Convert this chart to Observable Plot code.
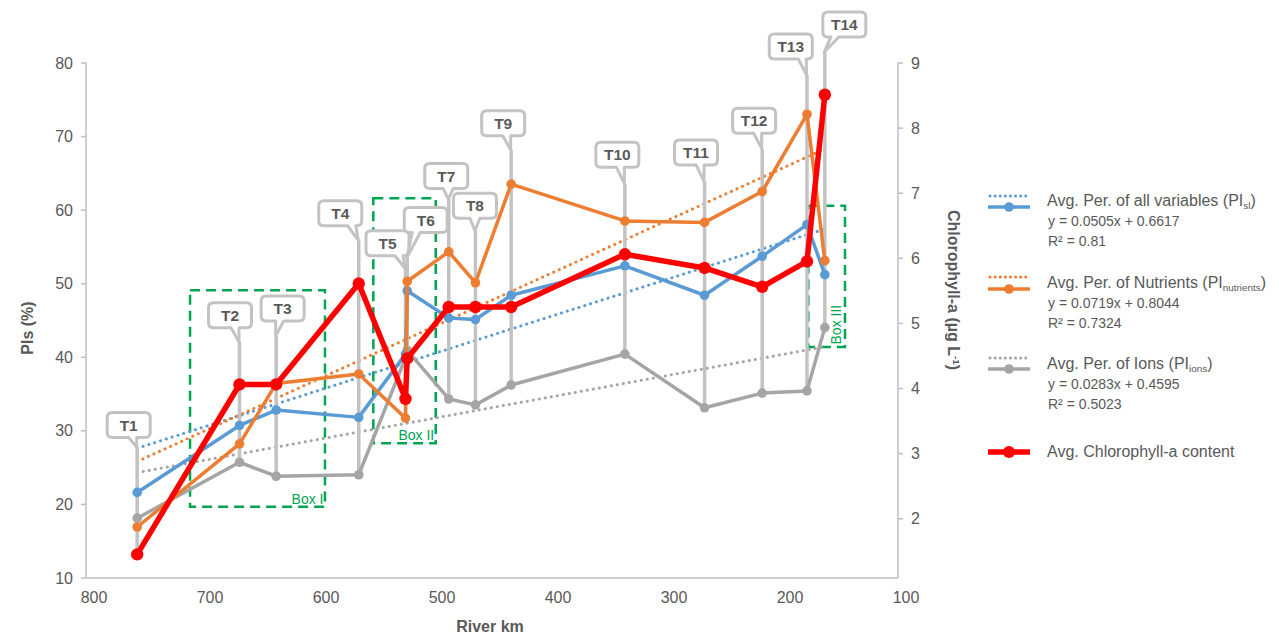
<!DOCTYPE html>
<html>
<head>
<meta charset="utf-8">
<script src="https://cdn.jsdelivr.net/npm/d3@7"></script>
<script src="https://cdn.jsdelivr.net/npm/@observablehq/plot@0.6"></script>
<style>
html,body{margin:0;padding:0;background:#fff;}
#wrap{position:relative;width:1279px;height:639px;font-family:"Liberation Sans",Arial,sans-serif;color:#595959;overflow:hidden;}
#chart svg{display:block;}
.t{position:absolute;white-space:nowrap;line-height:1;}
.ttl{font-weight:bold;font-size:16px;color:#595959;}
.lg{font-size:16px;transform:translateY(-50%);}
.eq{font-size:14px;transform:translateY(-50%);}
.sub{font-size:0.62em;position:relative;top:0.3em;}
.sup{font-size:0.62em;position:relative;top:-0.5em;}
</style>
</head>
<body>
<div id="wrap"><div id="chart"></div></div>
<script>
// ---------- data ----------
const stations = ["T1","T2","T3","T4","T5","T6","T7","T8","T9","T10","T11","T12","T13","T14"];
const riverKm = [756.3, 668.1, 636.5, 565.3, 525.0, 523.5, 487.7, 464.7, 433.9, 335.9, 267.2, 217.5, 178.9, 163.5];
const piAll = [21.7, 30.8, 32.9, 31.9, 40.5, 49.1, 45.4, 45.2, 48.5, 52.5, 48.5, 53.8, 58.1, 51.3];
const piNutrients = [17.0, 28.3, 36.5, 37.8, 31.8, 50.4, 54.4, 50.2, 63.6, 58.6, 58.4, 62.6, 73.1, 53.2];
const piIons = [18.2, 25.8, 23.9, 24.1, 40.0, 41.0, 34.4, 33.6, 36.3, 40.5, 33.2, 35.2, 35.5, 44.1];
const chlorophyll = [1.46, 4.07, 4.07, 5.62, 3.85, 4.47, 5.26, 5.26, 5.26, 6.07, 5.86, 5.57, 5.96, 8.52];

// trend line end values (at T1 and T14)
const trendAll = [27.7, 57.5];
const trendNutrients = [25.9, 68.4];
const trendIons = [24.4, 41.5];

// callout tip heights (left-axis units)
const calloutTip = [27.8, 42.1, 42.9, 55.9, 52.1, 53.5, 61.5, 57.2, 68.2, 63.6, 63.9, 68.4, 78.4, 81.5];

// green boxes
const boxNames = ["Box I", "Box II", "Box III"];
const boxKmStart = [710.3, 552.3, 177.3];
const boxKmEnd = [594.0, 498.5, 145.7];
const boxLow = [19.7, 28.3, 41.4];
const boxHigh = [49.1, 61.6, 60.6];

// axes
const xTicks = [800, 700, 600, 500, 400, 300, 200, 100];
const yTicks = [10, 20, 30, 40, 50, 60, 70, 80];
const chlTicks = [2, 3, 4, 5, 6, 7, 8, 9];
const chlDomain = [1.09, 9];

// ---------- layout / style (not data) ----------
const calloutDx = [-8, -9, 7, -18, -17.5, 19, -2, 0, -7.5, -7, -8, -7.6, -15.7, 20];
const calloutDy = [-22, -26.5, -27.5, -27, -25, -38, -23, -25, -26.5, -29, -29, -27.5, -28.3, -27.5];

const C = {blue:"#5b9bd5", orange:"#ed7d31", gray:"#a5a5a5", red:"#ff0000", green:"#00a550", axis:"#bfbfbf", text:"#595959"};

const y2 = d3.scaleLinear(chlDomain, [10, 80]);

const rows = stations.map((s, i) => ({
  s, km: riverKm[i], all: piAll[i], nut: piNutrients[i], ions: piIons[i], chl: chlorophyll[i],
  tip: calloutTip[i], dx: calloutDx[i], dy: calloutDy[i],
  low: Math.min(piAll[i], piNutrients[i], piIons[i], y2(chlorophyll[i]))
}));
const last = rows.length - 1;
const trends = [
  {key:"all", vals: trendAll, color: C.blue},
  {key:"nut", vals: trendNutrients, color: C.orange},
  {key:"ions", vals: trendIons, color: C.gray}
].flatMap(t => [
  {k: t.key, km: riverKm[0], v: t.vals[0], color: t.color},
  {k: t.key, km: riverKm[last], v: t.vals[1], color: t.color}
]);
const boxes = boxNames.map((n, i) => ({n, x1: boxKmStart[i], x2: boxKmEnd[i], y1: boxLow[i], y2: boxHigh[i]}));

// axes drawn through Plot's scales
function axesMark(index, scales) {
  const g = d3.create("svg:g").attr("font-size", 16).attr("fill", C.text);
  const x = scales.x, y = scales.y;
  const xl = x(800), xr = x(100), yb = y(10), yt = y(80);
  g.append("line").attr("x1", xl).attr("x2", xl).attr("y1", yt).attr("y2", yb).attr("stroke", C.axis).attr("stroke-width", 1.5);
  g.append("line").attr("x1", xr).attr("x2", xr).attr("y1", yt).attr("y2", yb).attr("stroke", C.axis).attr("stroke-width", 1.5);
  g.append("line").attr("x1", xl).attr("x2", xr).attr("y1", yb).attr("y2", yb).attr("stroke", C.axis).attr("stroke-width", 1.5);
  for (const t of yTicks) {
    const py = y(t);
    g.append("line").attr("x1", xl - 5).attr("x2", xl).attr("y1", py).attr("y2", py).attr("stroke", C.axis).attr("stroke-width", 1.5);
    g.append("text").attr("x", xl - 13).attr("y", py).attr("dy", "0.35em").attr("text-anchor", "end").text(t);
  }
  for (const t of chlTicks) {
    const py = y(y2(t));
    g.append("line").attr("x1", xr).attr("x2", xr + 5).attr("y1", py).attr("y2", py).attr("stroke", C.axis).attr("stroke-width", 1.5);
    g.append("text").attr("x", xr + 13).attr("y", py).attr("dy", "0.35em").attr("text-anchor", "start").text(t);
  }
  for (const t of xTicks) {
    g.append("text").attr("x", x(t) + 8).attr("y", yb + 19).attr("dy", "0.35em").attr("text-anchor", "middle").text(t);
  }
  return g.node();
}

function calloutMark(index, scales) {
  const g = d3.create("svg:g");
  const w = 43, h = 25, r = 5;
  for (const c of rows) {
    const tx = scales.x(c.km), ty = scales.y(c.tip);
    const cx = tx + c.dx, cy = ty + c.dy;
    const x0 = cx - w / 2, x1 = cx + w / 2, yA = cy - h / 2, yB = cy + h / 2;
    let b0, b1;
    if (c.dx < -3) { const e = Math.min(tx, x1 - r - 1); b0 = e - 8; b1 = e; }
    else if (c.dx > 3) { const e = Math.max(tx, x0 + r + 3); b0 = e; b1 = e + 8; }
    else { b0 = tx - 5; b1 = tx + 5; }
    const d = `M${x0 + r},${yA} H${x1 - r} Q${x1},${yA} ${x1},${yA + r} V${yB - r} Q${x1},${yB} ${x1 - r},${yB} H${b1} L${tx},${ty} L${b0},${yB} H${x0 + r} Q${x0},${yB} ${x0},${yB - r} V${yA + r} Q${x0},${yA} ${x0 + r},${yA} Z`;
    g.append("path").attr("d", d).attr("fill", "#fff").attr("stroke", "#c3c3c3").attr("stroke-width", 3).attr("stroke-linejoin", "round");
    g.append("text").attr("x", cx).attr("y", cy).attr("text-anchor", "middle").attr("dy", "0.36em")
      .attr("font-size", 15.5).attr("font-weight", "bold").attr("fill", C.text).text(c.s);
  }
  return g.node();
}

const plot = Plot.plot({
  width: 1279,
  height: 639,
  marginLeft: 86,
  marginRight: 381,
  marginTop: 63,
  marginBottom: 61,
  style: {fontFamily: "'Liberation Sans', Arial, sans-serif", background: "#fff", overflow: "visible"},
  x: {domain: [800, 100], axis: null},
  y: {domain: [10, 80], axis: null},
  marks: [
    axesMark,
    // green boxes
    Plot.rect(boxes, {x1: "x1", x2: "x2", y1: "y1", y2: "y2", fill: "none", stroke: C.green, strokeWidth: 2.5, strokeDasharray: "10,6"}),
    Plot.text(boxes.slice(0, 2), {x: "x2", y: "y1", text: "n", textAnchor: "end", dx: -2, dy: -8, fill: C.green, fontSize: 14}),
    Plot.text(boxes.slice(2), {x: "x2", y: "y1", text: "n", textAnchor: "start", rotate: -90, dx: -9, dy: -3, fill: C.green, fontSize: 14}),
    // trend lines
    Plot.line(trends, {x: "km", y: "v", z: "k", stroke: "color", strokeWidth: 3, strokeDasharray: "0.1,6", strokeLinecap: "round"}),
    // callout leader lines
    Plot.ruleX(rows, {x: "km", y1: "low", y2: "tip", stroke: "#c3c3c3", strokeWidth: 3.5}),
    // series
    Plot.line(rows, {x: "km", y: "ions", stroke: C.gray, strokeWidth: 3.5}),
    Plot.dot(rows, {x: "km", y: "ions", r: 4.8, fill: C.gray}),
    Plot.line(rows, {x: "km", y: "all", stroke: C.blue, strokeWidth: 3.5}),
    Plot.dot(rows, {x: "km", y: "all", r: 4.8, fill: C.blue}),
    Plot.line(rows, {x: "km", y: "nut", stroke: C.orange, strokeWidth: 3.5}),
    Plot.dot(rows, {x: "km", y: "nut", r: 4.8, fill: C.orange}),
    Plot.line(rows, {x: "km", y: d => y2(d.chl), stroke: C.red, strokeWidth: 5.5, strokeLinejoin: "round"}),
    Plot.dot(rows, {x: "km", y: d => y2(d.chl), r: 6.2, fill: C.red}),
    // callouts
    calloutMark
  ]
});
document.getElementById("chart").appendChild(plot);

// ---------- titles & legend ----------
const wrap = document.getElementById("wrap");
function addDiv(html, cls, style) {
  const d = document.createElement("div");
  d.className = "t " + cls;
  d.innerHTML = html;
  Object.assign(d.style, style);
  wrap.appendChild(d);
  return d;
}
addDiv("PIs (%)", "ttl", {left: "28px", top: "328px", transform: "translate(-50%,-50%) rotate(-90deg)"});
addDiv("Chlorophyll-a (µg L<span class='sup'>-1</span>)", "ttl", {left: "953px", top: "290px", transform: "translate(-50%,-50%) rotate(90deg)"});
addDiv("River km", "ttl", {left: "490px", top: "627px", transform: "translate(-50%,-50%)"});

const legendItems = [
  {name: "Avg. Per. of all variables (PI<span class='sub'>sl</span>)", eq: "y = 0.0505x + 0.6617", r2: "R² = 0.81", color: C.blue, y: 201, dot: 196, solid: 207},
  {name: "Avg. Per. of Nutrients (PI<span class='sub'>nutrients</span>)", eq: "y = 0.0719x + 0.8044", r2: "R² = 0.7324", color: C.orange, y: 283, dot: 277, solid: 289},
  {name: "Avg. Per. of Ions (PI<span class='sub'>ions</span>)", eq: "y = 0.0283x + 0.4595", r2: "R² = 0.5023", color: C.gray, y: 364, dot: 358, solid: 369},
  {name: "Avg. Chlorophyll-a content", color: C.red, y: 452, solid: 452, thick: true}
];
const svgNS = "http://www.w3.org/2000/svg";
const sw = document.createElementNS(svgNS, "svg");
sw.setAttribute("width", 1279); sw.setAttribute("height", 639);
sw.style.position = "absolute"; sw.style.left = "0"; sw.style.top = "0"; sw.style.pointerEvents = "none";
wrap.appendChild(sw);
function ln(x1, y1, x2, y2, attrs) {
  const l = document.createElementNS(svgNS, "line");
  l.setAttribute("x1", x1); l.setAttribute("y1", y1); l.setAttribute("x2", x2); l.setAttribute("y2", y2);
  for (const k in attrs) l.setAttribute(k, attrs[k]);
  sw.appendChild(l);
}
function circ(cx, cy, r, fill) {
  const c = document.createElementNS(svgNS, "circle");
  c.setAttribute("cx", cx); c.setAttribute("cy", cy); c.setAttribute("r", r); c.setAttribute("fill", fill);
  sw.appendChild(c);
}
for (const it of legendItems) {
  if (it.dot) ln(990, it.dot, 1029, it.dot, {stroke: it.color, "stroke-width": 3, "stroke-dasharray": "0.1,5", "stroke-linecap": "round"});
  ln(988, it.solid, 1030, it.solid, {stroke: it.color, "stroke-width": it.thick ? 5.5 : 3.5});
  circ(1009, it.solid, it.thick ? 6 : 4.8, it.color);
  addDiv(it.name, "lg", {left: "1047px", top: it.y + "px"});
  if (it.eq) {
    addDiv(it.eq, "eq", {left: "1048px", top: (it.y + 20) + "px"});
    addDiv(it.r2, "eq", {left: "1048px", top: (it.y + 40) + "px"});
  }
}
</script>
</body>
</html>
